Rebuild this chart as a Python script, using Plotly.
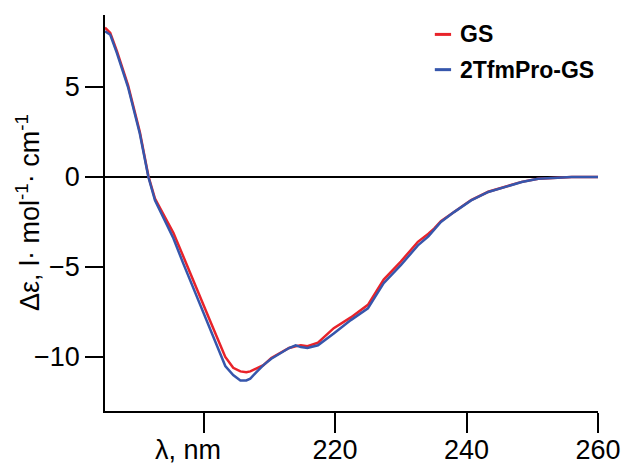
import plotly.graph_objects as go

# wavelengths (nm) and CD values (Δε)
wl = [185.0, 185.8, 186.8, 188.5, 190.3, 191.6, 192.6, 194.2, 195.4, 196.9, 199.0, 201.0,
      203.3, 204.5, 205.6, 206.5, 207.1, 208.0, 209.1, 210.3, 211.7, 213.0, 214.0, 214.8,
      215.8, 217.4, 219.8, 222.4, 225.0, 227.4, 230.0, 232.6, 234.2, 235.1, 236.1, 238.1,
      240.7, 243.3, 245.8, 248.4, 250.9, 253.4, 256.0, 260.0]
gs = [8.3, 8.0, 7.0, 5.1, 2.5, 0.05, -1.2, -2.3, -3.1, -4.4, -6.2, -8.0,
      -10.0, -10.6, -10.8, -10.85, -10.8, -10.65, -10.45, -10.05, -9.75, -9.5, -9.4, -9.35,
      -9.4, -9.2, -8.4, -7.8, -7.1, -5.7, -4.7, -3.6, -3.15, -2.85, -2.45, -1.92,
      -1.28, -0.82, -0.54, -0.27, -0.1, -0.04, 0.0, 0.0]
tfm = [8.1, 7.9, 6.9, 5.0, 2.4, 0.0, -1.3, -2.5, -3.4, -4.8, -6.7, -8.5,
       -10.5, -11.0, -11.3, -11.3, -11.2, -10.85, -10.45, -10.1, -9.8, -9.5, -9.35, -9.45,
       -9.5, -9.35, -8.7, -7.95, -7.3, -5.9, -4.9, -3.8, -3.3, -2.95, -2.5, -1.95,
       -1.3, -0.83, -0.55, -0.28, -0.1, -0.05, 0.0, 0.0]

series_names = ["GS", "2TfmPro-GS"]
colors = ["#e8232a", "#3656ac"]

x_ticks = [200, 220, 240, 260]
x_ticktext = ["", "220", "240", "260"]
y_ticks = [-10, -5, 0, 5]

FONT = "Arial, Liberation Sans, sans-serif"

fig = go.Figure()
fig.add_trace(go.Scatter(x=wl, y=gs, mode="lines", name=series_names[0],
                         line=dict(color=colors[0], width=2.5), showlegend=False))
fig.add_trace(go.Scatter(x=wl, y=tfm, mode="lines", name=series_names[1],
                         line=dict(color=colors[1], width=2.5), showlegend=False))

fig.update_layout(
    width=622, height=464,
    margin=dict(l=105, r=24, t=15, b=53, autoexpand=False),
    paper_bgcolor="white", plot_bgcolor="white",
    font=dict(family=FONT, size=27, color="black"),
)
fig.update_xaxes(range=[185, 260], tickvals=x_ticks, ticktext=x_ticktext,
                 automargin=False, ticklabelstandoff=-6,
                 showgrid=False, zeroline=False, showline=True, linecolor="black",
                 linewidth=1.5, ticks="outside", ticklen=20, tickwidth=1.5,
                 tickcolor="black")
fig.update_yaxes(range=[-13, 9], tickvals=y_ticks, showgrid=False, automargin=False,
                 zeroline=True, zerolinecolor="black", zerolinewidth=1.5,
                 showline=True, linecolor="black", linewidth=1.5,
                 ticks="outside", ticklen=18, tickwidth=1.5, tickcolor="black")

# axis titles
fig.add_annotation(text="λ, nm", x=197.55, xref="x", y=0, yref="paper", yshift=-39,
                   yanchor="middle", showarrow=False, font=dict(size=27))
fig.add_annotation(text="Δε, l· mol<sup>-1</sup>· cm<sup>-1</sup>", textangle=-90,
                   x=-0.156, xref="paper", y=0.5, yref="paper", xanchor="center",
                   yanchor="middle", showarrow=False, font=dict(size=27))

# legend (custom)
leg_y = [0.951, 0.862]
for name, col, yy in zip(series_names, colors, leg_y):
    fig.add_shape(type="line", xref="paper", yref="paper", x0=0.669, x1=0.702,
                  y0=yy, y1=yy, line=dict(color=col, width=3))
    fig.add_annotation(text="<b>%s</b>" % name, x=0.716, xref="paper", y=yy,
                       yref="paper", xanchor="left", yanchor="middle",
                       showarrow=False, font=dict(size=23))

fig.write_html("out.html", config={"displayModeBar": False},
               post_script="document.body.style.margin='0';document.body.style.overflow='hidden';")
